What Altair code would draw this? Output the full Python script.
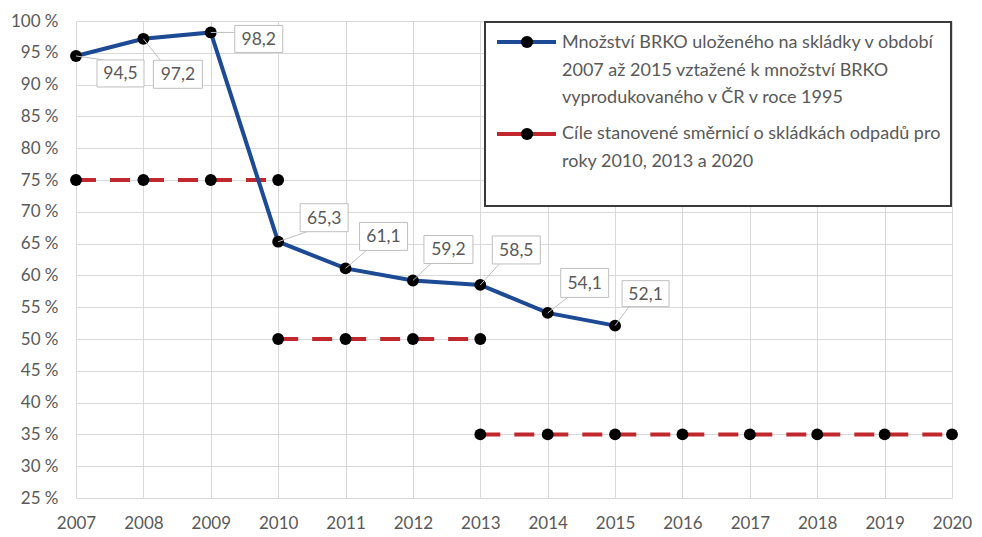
import altair as alt
import pandas as pd

# ---- data ----
years = [2007, 2008, 2009, 2010, 2011, 2012, 2013, 2014, 2015]
brko_share = [94.5, 97.2, 98.2, 65.3, 61.1, 59.2, 58.5, 54.1, 52.1]
brko_labels = ["94,5", "97,2", "98,2", "65,3", "61,1", "59,2", "58,5", "54,1", "52,1"]

target_years = [2007, 2008, 2009, 2010,
                2010, 2011, 2012, 2013,
                2013, 2014, 2015, 2016, 2017, 2018, 2019, 2020]
target_values = [75, 75, 75, 75,
                 50, 50, 50, 50,
                 35, 35, 35, 35, 35, 35, 35, 35]
target_segment = ["2010", "2010", "2010", "2010",
                  "2013", "2013", "2013", "2013",
                  "2020", "2020", "2020", "2020", "2020", "2020", "2020", "2020"]

x_ticks = [2007, 2008, 2009, 2010, 2011, 2012, 2013, 2014, 2015, 2016, 2017, 2018, 2019, 2020]
y_ticks = [25, 30, 35, 40, 45, 50, 55, 60, 65, 70, 75, 80, 85, 90, 95, 100]

legend_blue = ["Množství BRKO uloženého na skládky v období",
               "2007 až 2015 vztažené k množství BRKO",
               "vyprodukovaného v ČR v roce 1995"]
legend_red = ["Cíle stanovené směrnicí o skládkách odpadů pro",
              "roky 2010, 2013 a 2020"]

# ---- styles ----
FONT = "Lato"
GRAY = "#595959"
BLUE = "#1c4a94"
RED = "#c0282d"
W, H = 876, 477

# callout label placement (pixel offsets from point: dx, dy, box w, box h)
callouts = [(44.5, 17.5, 47, 27), (34.5, 35.5, 49, 28), (48, 6.5, 48, 27),
            (46, -24, 48, 28), (38, -32, 48, 28), (35.5, -31, 49, 28),
            (36, -35, 48, 28), (37, -30, 48, 29), (30.5, -32, 47, 26)]

brko_df = pd.DataFrame({"year": years, "value": brko_share, "label": brko_labels})
target_df = pd.DataFrame({"year": target_years, "value": target_values, "segment": target_segment})

xs = alt.Scale(domain=[2007, 2020], nice=False, zero=False)
ys = alt.Scale(domain=[25, 100], nice=False, zero=False)

x_enc = alt.X("year:Q", scale=xs, title=None,
              axis=alt.Axis(values=x_ticks, tickCount=len(x_ticks), format="d", grid=True,
                            labelPadding=17, labelFlush=False, labelOverlap=False))
y_enc = alt.Y("value:Q", scale=ys, title=None,
              axis=alt.Axis(values=y_ticks, tickCount=len(y_ticks),
                            labelExpr="datum.value + ' %'", grid=True,
                            labelPadding=18, labelOverlap=False))

base_b = alt.Chart(brko_df)
base_t = alt.Chart(target_df)

target_line = base_t.mark_line(color=RED, strokeWidth=4, strokeDash=[20, 14]).encode(
    x=x_enc, y=y_enc, detail="segment:N")
target_pts = base_t.mark_circle(color="black", opacity=1, size=140).encode(
    x=alt.X("year:Q", scale=xs), y=alt.Y("value:Q", scale=ys))

brko_line = base_b.mark_line(color=BLUE, strokeWidth=4).encode(
    x=alt.X("year:Q", scale=xs), y=alt.Y("value:Q", scale=ys))
brko_pts = base_b.mark_circle(color="black", opacity=1, size=140).encode(
    x=alt.X("year:Q", scale=xs), y=alt.Y("value:Q", scale=ys))

layers = [target_line, brko_line, target_pts, brko_pts]

for yr, (dx, dy, w, h) in zip(years, callouts):
    sub = base_b.transform_filter(alt.datum.year == yr)
    top, bot = dy - h / 2, dy + h / 2
    ay = min(max(0, top), bot)
    ax = dx - w / 2 + (0 if top <= 0 <= bot else 7)
    leader = sub.mark_rule(color="#bfbfbf", strokeWidth=1, xOffset=0, yOffset=0,
                           x2Offset=ax, y2Offset=ay).encode(
        x=alt.X("year:Q", scale=xs), x2="year:Q",
        y=alt.Y("value:Q", scale=ys), y2="value:Q")
    box = sub.mark_rect(fill="white", stroke="#bfbfbf", strokeWidth=1,
                        xOffset=dx - w / 2, x2Offset=dx + w / 2,
                        yOffset=top, y2Offset=bot).encode(
        x=alt.X("year:Q", scale=xs), x2="year:Q",
        y=alt.Y("value:Q", scale=ys), y2="value:Q")
    txt = sub.mark_text(font=FONT, fontSize=17.5, color=GRAY, dx=dx, dy=dy + 1,
                        align="center", baseline="middle").encode(
        x=alt.X("year:Q", scale=xs), y=alt.Y("value:Q", scale=ys), text="label:N")
    layers += [leader, box, txt]

# ---- legend (drawn in pixel space of the plot area) ----
one = alt.Chart(pd.DataFrame({"k": [0]}))
layers.append(one.mark_rect(fill="white", stroke="#3a3a3a", strokeWidth=2).encode(
    x=alt.value(409), x2=alt.value(875), y=alt.value(1), y2=alt.value(185)))
for col, yy in [(BLUE, 21), (RED, 113)]:
    layers.append(one.mark_rule(color=col, strokeWidth=4).encode(
        x=alt.value(421), x2=alt.value(480), y=alt.value(yy), y2=alt.value(yy)))
    layers.append(one.mark_circle(color="black", opacity=1, size=150).encode(
        x=alt.value(451), y=alt.value(yy)))
for i, line in enumerate(legend_blue):
    layers.append(one.mark_text(font=FONT, fontSize=18, color=GRAY, align="left",
                                baseline="middle", text=line).encode(
        x=alt.value(486), y=alt.value(22 + i * 27.5)))
for i, line in enumerate(legend_red):
    layers.append(one.mark_text(font=FONT, fontSize=18, color=GRAY, align="left",
                                baseline="middle", text=line).encode(
        x=alt.value(486), y=alt.value(113 + i * 28)))

chart = alt.layer(*layers).properties(
    width=W, height=H,
    autosize=alt.AutoSizeParams(type="none"),
    padding={"left": 68, "top": 13, "right": 22, "bottom": 38},
).configure_view(stroke=None).configure_axis(
    labelFont=FONT, labelFontSize=17, labelColor=GRAY, ticks=False, domain=False,
    gridColor="#d9d9d9", gridWidth=1,
)

chart.save("out.html", embed_options={"renderer": "svg", "actions": False})
